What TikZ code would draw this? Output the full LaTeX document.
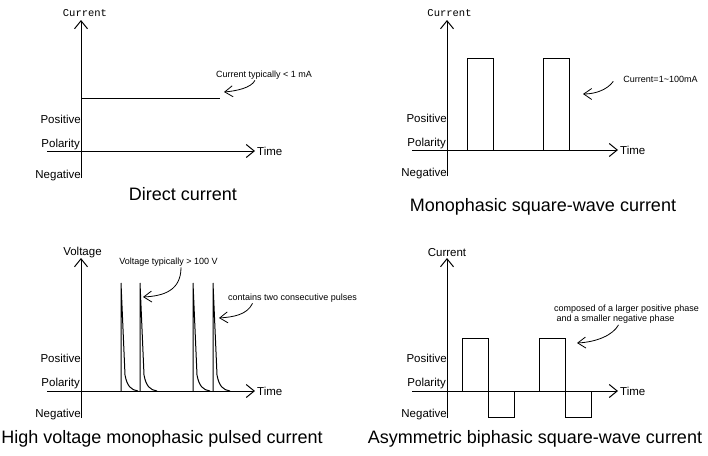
\documentclass[tikz,border=0pt]{standalone}
\usepackage{fontspec}
\setmainfont{Liberation Sans}
\newfontfamily\cnfont{Liberation Mono}
\usetikzlibrary{positioning,arrows.meta}

\begin{document}
\begin{tikzpicture}[
  x=1pt, y=-1pt,
  axis/.style={line width=1pt, -{Straight Barb[length=8pt,width=13pt]}},
  wave/.style={line width=1pt},
  pol/.style={anchor=east, inner sep=0pt, font=\fontsize{11.5}{13}\selectfont},
  tlab/.style={anchor=west, inner sep=0pt, font=\fontsize{11.5}{13}\selectfont},
  ylab/.style={inner sep=0pt, font=\fontsize{11.5}{13}\selectfont},
  note/.style={inner sep=1pt, font=\fontsize{9}{10}\selectfont},
  notearr/.style={line width=0.8pt, -{Straight Barb[length=8pt,width=11pt]}},
  ttl/.style={inner sep=0pt, font=\fontsize{18}{20}\selectfont}
]
\useasboundingbox (0,0) rectangle (708,455);

% direct current
\begin{scope}[shift={(81,151)}]
  \draw[axis] (0,27) -- (0,-131) coordinate (dcY);
  \draw[axis] (-34,0) -- (174,0) coordinate (dcT);
  \node[ylab, font=\cnfont\fontsize{10.5}{12}\selectfont] (dcylab) at (4,-138) {Current};
  \node[tlab, right=2pt of dcT] (dctime) {Time};
  \node[pol] (dcpos) at (0,-32) {Positive};
  \node[pol] (dcpol) at (-1,-6) {Polarity};
  \node[pol] (dcneg) at (0,25) {Negative};
  \draw[wave] (0,-53) -- (139,-53);
  \node[note] (dcnote) at (183,-76) {Current typically < 1 mA};
  \coordinate (dctip) at (143,-59);
  \draw[notearr] ([xshift=-9pt]dcnote.south) .. controls (170,-63) and (155,-60) .. (dctip);
  \node[ttl] (dcttl) at (102,43) {Direct current};
\end{scope}

% monophasic square wave
\begin{scope}[shift={(447,150)}]
  \draw[axis] (0,26) -- (0,-130) coordinate (monoY);
  \draw[axis] (-35,0) -- (171,0) coordinate (monoT);
  \node[ylab, font=\cnfont\fontsize{10.5}{12}\selectfont] (monoylab) at (2.5,-137) {Current};
  \node[tlab, right=2pt of monoT] (monotime) {Time};
  \node[pol] (monopos) at (0,-32) {Positive};
  \node[pol] (monopol) at (-1,-6) {Polarity};
  \node[pol] (mononeg) at (0,24) {Negative};
  \foreach \x in {20,96}
    \draw[wave] (\x,0) -- (\x,-92) -- (\x+26,-92) -- (\x+26,0);
  \node[note] (mononote) at (213.5,-71) {Current=1\textasciitilde100mA};
  \coordinate (monotip) at (136,-56);
  \draw[notearr] ([xshift=-9pt,yshift=2pt]mononote.south west) .. controls (160,-60) and (148,-56) .. (monotip);
  \node[ttl] (monottl) at (96,57) {Monophasic square-wave current};
\end{scope}

% high voltage pulsed
\begin{scope}[shift={(81,391)}]
  \draw[axis] (0,27) -- (0,-133) coordinate (hvY);
  \draw[axis] (-34,0) -- (174,0) coordinate (hvT);
  \node[ylab] (hvylab) at (1.5,-138) {Voltage};
  \node[tlab, right=2pt of hvT] (hvtime) {Time};
  \node[pol] (hvpos) at (0,-33) {Positive};
  \node[pol] (hvpol) at (-1,-7) {Polarity};
  \node[pol] (hvneg) at (0,24) {Negative};
  \foreach \x in {40,59,112,132}
    \draw[wave] (\x,0) -- (\x,-108) -- (\x+4,-16) .. controls (\x+6,-5) and (\x+10,-1) .. (\x+17,0);
  \node[note] (hvnote) at (87.5,-129) {Voltage typically > 100 V};
  \coordinate (hvtip) at (62,-94);
  \draw[notearr] ([xshift=12.5pt]hvnote.south) .. controls (100,-100) and (82,-95) .. (hvtip);
  \node[note] (hvnote2) at (211.5,-93) {contains two consecutive pulses};
  \coordinate (hvtip2) at (138,-73);
  \draw[notearr] ([xshift=-40pt]hvnote2.south) .. controls (166,-76) and (152,-74) .. (hvtip2);
  \node[ttl] (hvttl) at (81,48) {High voltage monophasic pulsed current};
\end{scope}

% asymmetric biphasic square wave
\begin{scope}[shift={(447,391)}]
  \draw[axis] (0,27) -- (0,-133) coordinate (biY);
  \draw[axis] (-35,0) -- (171,0) coordinate (biT);
  \node[ylab] (biylab) at (0,-138) {Current};
  \node[tlab, right=2pt of biT] (bitime) {Time};
  \node[pol] (bipos) at (0,-33) {Positive};
  \node[pol] (bipol) at (-1,-7) {Polarity};
  \node[pol] (bineg) at (0,24) {Negative};
  \foreach \x in {15,92}
    \draw[wave] (\x,0) -- (\x,-53) -- (\x+26,-53) -- (\x+26,26) -- (\x+52,26) -- (\x+52,0);
  \node[note, align=left, anchor=west] (binote) at (106,-76.5)
    {composed of a larger positive phase\\\ and a smaller negative phase};
  \coordinate (bitip) at (130,-48);
  \draw[notearr] ([xshift=-8pt]binote.south) .. controls (166,-56) and (150,-49) .. (bitip);
  \node[ttl] (bittl) at (88,48) {Asymmetric biphasic square-wave current};
\end{scope}
\end{tikzpicture}
\end{document}
